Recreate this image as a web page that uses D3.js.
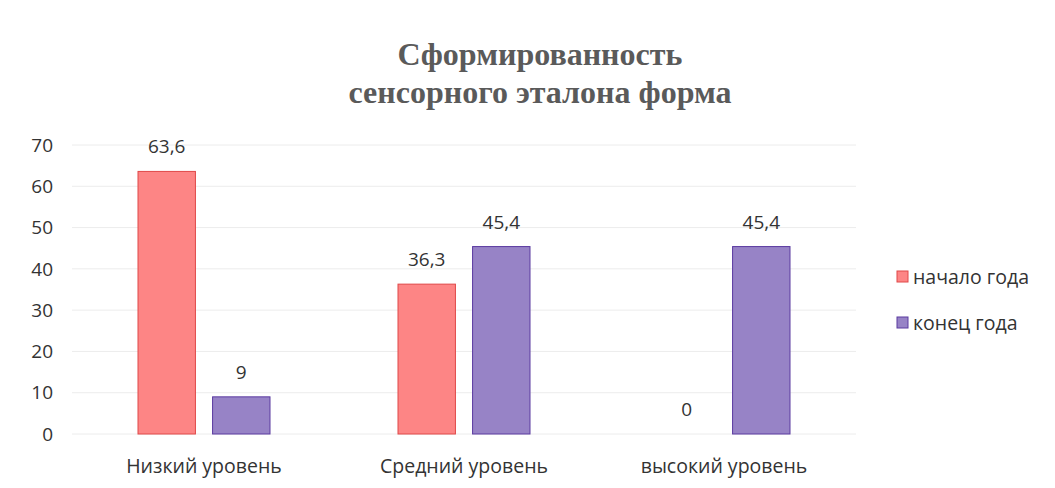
<!DOCTYPE html>
<html>
  <head>
    <meta charset="utf-8">
    <script src="https://d3js.org/d3.v7.min.js"></script>
    <style>
      body { margin: 0; background: #fff; }
    </style>
  </head>
  <body>
    <script>

const categories = ["Низкий уровень", "Средний уровень", "высокий уровень"];
const seriesNames = ["начало года", "конец года"];
const startValues = [63.6, 36.3, 0];
const endValues = [9, 45.4, 45.4];
const yTicks = [0, 10, 20, 30, 40, 50, 60, 70];
const titleLines = ["Сформированность", "сенсорного эталона форма"];

const colors = ["#fd8585", "#9783c6"];
const strokes = ["#e04848", "#5a3aa0"];

const width = 1055;
const height = 488;
const margin = { top: 145, right: 201, bottom: 54, left: 74 };

const rows = categories.map((c, i) => ({ cat: c, values: [startValues[i], endValues[i]] }));

const svg = d3.select("body").append("svg")
    .attr("width", width)
    .attr("height", height);

const x0 = d3.scaleBand()
    .domain(categories)
    .range([margin.left, width - margin.right]);

// the pair of bars sits in the middle 132px of each band
const groupW = 132;
const x1 = d3.scaleBand()
    .domain([0, 1])
    .range([(x0.bandwidth() - groupW) / 2, (x0.bandwidth() + groupW) / 2])
    .paddingInner(0.23);

const y = d3.scaleLinear()
    .domain([0, 70])
    .range([height - margin.bottom, margin.top]);

const font = "Open Sans, sans-serif";

// gridlines
svg.append("g")
    .selectAll("line")
    .data(yTicks)
    .join("line")
    .attr("x1", 72)
    .attr("x2", 856)
    .attr("y1", d => y(d))
    .attr("y2", d => y(d))
    .attr("stroke", "#ececec")
    .attr("stroke-width", 1);

// y tick labels
svg.append("g")
    .selectAll("text")
    .data(yTicks)
    .join("text")
    .attr("x", 53)
    .attr("y", d => y(d))
    .attr("dy", "0.35em")
    .attr("text-anchor", "end")
    .attr("font-family", font)
    .attr("font-size", 19)
    .attr("fill", "#333")
    .text(d => d);

const group = svg.append("g")
    .selectAll("g")
    .data(rows)
    .join("g")
    .attr("transform", d => `translate(${x0(d.cat)},0)`);

group.selectAll("rect")
    .data(d => d.values.map((v, i) => ({ v, i })))
    .join("rect")
    .filter(d => d.v > 0)
    .attr("x", d => x1(d.i))
    .attr("y", d => y(d.v))
    .attr("width", x1.bandwidth())
    .attr("height", d => y(0) - y(d.v))
    .attr("fill", d => colors[d.i])
    .attr("stroke", d => strokes[d.i])
    .attr("stroke-width", 1);

group.selectAll("text")
    .data(d => d.values.map((v, i) => ({ v, i })))
    .join("text")
    .attr("x", d => x1(d.i) + x1.bandwidth() / 2)
    .attr("y", d => y(d.v) - 18)
    .attr("text-anchor", "middle")
    .attr("font-family", font)
    .attr("font-size", 19)
    .attr("fill", "#333")
    .text(d => String(d.v).replace(".", ","));

// category labels
svg.append("g")
    .selectAll("text")
    .data(categories)
    .join("text")
    .attr("x", d => x0(d) + x0.bandwidth() / 2)
    .attr("y", 473)
    .attr("text-anchor", "middle")
    .attr("font-family", font)
    .attr("font-size", 19.5)
    .attr("fill", "#333")
    .text(d => d);

// title
svg.append("g")
    .selectAll("text")
    .data(titleLines)
    .join("text")
    .attr("x", 540)
    .attr("y", (d, i) => 65 + i * 38)
    .attr("text-anchor", "middle")
    .attr("font-family", "Liberation Serif, serif")
    .attr("font-weight", "bold")
    .attr("font-size", 32)
    .attr("fill", "#5a5a5a")
    .text(d => d);

// legend
const legend = svg.append("g")
    .selectAll("g")
    .data(seriesNames)
    .join("g")
    .attr("transform", (d, i) => `translate(897,${277 + i * 46})`);

legend.append("rect")
    .attr("x", 0)
    .attr("y", -6)
    .attr("width", 11)
    .attr("height", 11)
    .attr("fill", (d, i) => colors[i])
    .attr("stroke", (d, i) => strokes[i]);

legend.append("text")
    .attr("x", 16)
    .attr("y", 0)
    .attr("dy", "0.35em")
    .attr("font-family", font)
    .attr("font-size", 19.5)
    .attr("fill", "#333")
    .text(d => d);

    </script>
  </body>
</html>
